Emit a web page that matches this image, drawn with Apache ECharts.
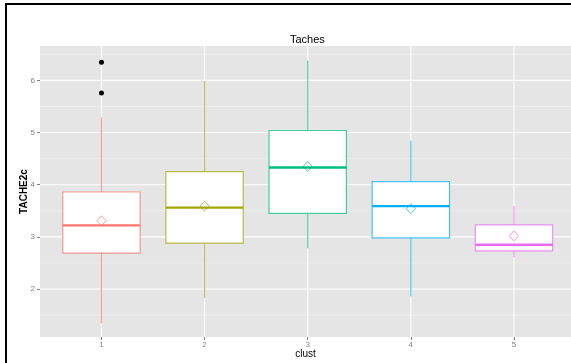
<!DOCTYPE html>
<html>
<head>
<meta charset="utf-8">
<script src="https://cdn.jsdelivr.net/npm/echarts@6/dist/echarts.min.js"></script>
<style>html,body{margin:0;padding:0;background:#fff;}#c{width:571px;height:363px;}</style>
</head>
<body>
<div id="c"></div>
<script>
// ---- data ----
const categories = [1, 2, 3, 4, 5];
const whiskerLow  = [1.34, 1.83, 2.78, 1.86, 2.61];
const q1          = [2.69, 2.88, 3.45, 2.98, 2.73];
const median      = [3.22, 3.56, 4.33, 3.59, 2.85];
const q3          = [3.86, 4.25, 5.04, 4.06, 3.23];
const whiskerHigh = [5.29, 5.99, 6.38, 4.85, 3.59];
const means       = [3.31, 3.59, 4.35, 3.54, 3.02];
const outliers    = [[1, 6.35], [1, 5.76]];
const yTicks      = [2, 3, 4, 5, 6];
const yMinor      = [1.5, 2.5, 3.5, 4.5, 5.5, 6.5];
const xTicks      = [1, 2, 3, 4, 5];

const colors = ['#F8766D', '#A3A500', '#00BF7D', '#00B0F6', '#E76BF3'];
const FONT = '"Liberation Sans", Arial, sans-serif';

function hexA(hex, a) {
  const r = parseInt(hex.slice(1, 3), 16), g = parseInt(hex.slice(3, 5), 16), b = parseInt(hex.slice(5, 7), 16);
  return 'rgba(' + r + ',' + g + ',' + b + ',' + a + ')';
}

const boxData = categories.map((c, i) => [c, whiskerLow[i], q1[i], median[i], q3[i], whiskerHigh[i], means[i]]);

const chart = echarts.init(document.getElementById('c'), null, { renderer: 'canvas' });

function hLines(params, api) {
  const cs = params.coordSys;
  const p = api.coord([1, api.value(1)]);
  return { type: 'line', shape: { x1: cs.x, y1: p[1], x2: cs.x + cs.width, y2: p[1] },
    style: { stroke: params.seriesName === 'minor' ? '#F2F2F2' : '#FFFFFF', lineWidth: params.seriesName === 'minor' ? 0.6 : 1.1 }, silent: true };
}
function vLines(params, api) {
  const cs = params.coordSys;
  const p = api.coord([api.value(0), 2]);
  return { type: 'line', shape: { x1: p[0], y1: cs.y, x2: p[0], y2: cs.y + cs.height },
    style: { stroke: '#FFFFFF', lineWidth: 1.1 }, silent: true };
}
function renderBox(params, api) {
  const i = params.dataIndex;
  const col = colors[i];
  const x = api.value(0);
  const half = api.size([0.75, 0])[0] / 2;
  const pLo = api.coord([x, api.value(1)]);
  const pQ1 = api.coord([x, api.value(2)]);
  const pMed = api.coord([x, api.value(3)]);
  const pQ3 = api.coord([x, api.value(4)]);
  const pHi = api.coord([x, api.value(5)]);
  const pMean = api.coord([x, api.value(6)]);
  const cx = pLo[0];
  const wStyle = { stroke: hexA(col, 0.72), lineWidth: 1.1 };
  return {
    type: 'group',
    children: [
      { type: 'line', shape: { x1: cx, y1: pLo[1], x2: cx, y2: pQ1[1] }, style: wStyle },
      { type: 'line', shape: { x1: cx, y1: pQ3[1], x2: cx, y2: pHi[1] }, style: wStyle },
      { type: 'rect', shape: { x: cx - half, y: pQ3[1], width: 2 * half, height: pQ1[1] - pQ3[1] },
        style: { fill: '#FFFFFF', stroke: hexA(col, 0.72), lineWidth: 1.2 } },
      { type: 'line', shape: { x1: cx - half, y1: pMed[1], x2: cx + half, y2: pMed[1] },
        style: { stroke: col, lineWidth: 2.4 } },
      { type: 'polygon', shape: { points: [[cx, pMean[1] - 5], [cx + 4.6, pMean[1]], [cx, pMean[1] + 5], [cx - 4.6, pMean[1]]] },
        style: { fill: 'none', stroke: hexA(col, 0.7), lineWidth: 1 } }
    ]
  };
}

chart.setOption({
  animation: false,
  backgroundColor: '#FFFFFF',
  title: {
    text: 'Taches', left: 290, top: 34, padding: 0,
    textStyle: { fontFamily: FONT, fontSize: 11, fontWeight: 'normal', color: '#000000' }
  },
  grid: { left: 40, right: 0, top: 46, bottom: 26, show: true, backgroundColor: '#E5E5E5', borderWidth: 0,
    containLabel: false, outerBoundsMode: 'none' },
  xAxis: {
    type: 'value', min: 0.404, max: 5.553,
    splitLine: { show: false }, axisLine: { show: false },
    axisTick: { show: true, customValues: xTicks, length: 3, lineStyle: { color: '#7F7F7F', width: 1 } },
    axisLabel: { customValues: xTicks, fontSize: 8, color: '#7F7F7F', fontFamily: FONT, margin: 4 },
    name: 'clust', nameLocation: 'middle', nameGap: 12, nameMoveOverlap: false,
    nameTextStyle: { fontFamily: FONT, fontSize: 10, color: '#000000' }
  },
  yAxis: {
    type: 'value', min: 1.08, max: 6.66,
    splitLine: { show: false }, axisLine: { show: false },
    axisTick: { show: true, customValues: yTicks, length: 3, lineStyle: { color: '#7F7F7F', width: 1 } },
    axisLabel: { customValues: yTicks, fontSize: 8, color: '#7F7F7F', fontFamily: FONT, margin: 5 },
    name: 'TACHE2c', nameLocation: 'middle', nameGap: 11, nameMoveOverlap: false,
    nameTextStyle: { fontFamily: FONT, fontSize: 10, fontWeight: 'bold', color: '#000000' }
  },
  graphic: [
    { type: 'line', shape: { x1: 6, y1: 3, x2: 6, y2: 363 }, style: { stroke: '#000', lineWidth: 2 }, z: 100 },
    { type: 'line', shape: { x1: 5, y1: 4, x2: 571, y2: 4 }, style: { stroke: '#000', lineWidth: 2 }, z: 100 }
  ],
  series: [
    { name: 'minor', type: 'custom', renderItem: hLines, data: yMinor.map(v => [1, v]), z: 1, silent: true },
    { name: 'major', type: 'custom', renderItem: hLines, data: yTicks.map(v => [1, v]), z: 1, silent: true },
    { name: 'vgrid', type: 'custom', renderItem: vLines, data: xTicks.map(v => [v, 2]), z: 1, silent: true },
    { name: 'boxes', type: 'custom', renderItem: renderBox, data: boxData, z: 3,
      encode: { x: 0, y: [1, 2, 3, 4, 5, 6] } },
    { name: 'outliers', type: 'scatter', data: outliers, symbol: 'circle', symbolSize: 5,
      itemStyle: { color: '#000000', opacity: 1 }, z: 5 }
  ]
});
</script>
</body>
</html>
